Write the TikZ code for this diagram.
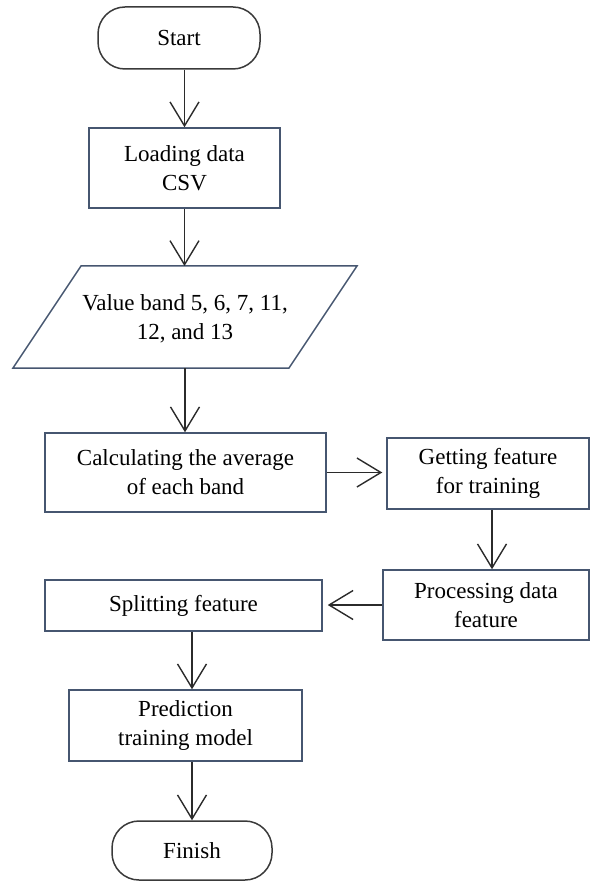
\documentclass[tikz,border=0pt]{standalone}
\usepackage{fontspec}
\setmainfont{Liberation Serif}
\usetikzlibrary{arrows.meta}
\definecolor{boxcol}{HTML}{465670}
\definecolor{termcol}{HTML}{3A3A3A}
\definecolor{arrcol}{HTML}{2B2B2B}
\begin{document}
\begin{tikzpicture}[x=1pt,y=-1pt,
  every node/.style={font=\fontsize{23}{29}\selectfont, align=center, inner sep=0pt},
  procbox/.style={draw=boxcol, line width=1.5pt, rectangle},
  term/.style={draw=termcol, line width=1.5pt, rounded corners=27pt},
  arr/.style={draw=arrcol, line width=1.4pt,
    -{Straight Barb[length=24pt,width=29pt,line width=1.4pt]}}]
\useasboundingbox (0,0) rectangle (590,882);

% terminals and process steps
\node[term, minimum width=162pt, minimum height=62pt] (start) at (179,38) {Start};
\node[procbox, minimum width=191pt, minimum height=80pt] (load) at (184.5,168) {Loading data\\CSV};

% input/output parallelogram
\draw[draw=boxcol, line width=1.5pt] (81,266) -- (357,266) -- (289,368) -- (13,368) -- cycle;
\coordinate (valtop) at (185,266);
\coordinate (valbot) at (185,368);
\node (vals) at (185,319) {Value band 5, 6, 7, 11,\\12, and 13};

\node[procbox, minimum width=281pt, minimum height=79pt] (calc) at (185.5,472.5) {Calculating the average\\of each band};
\node[procbox, minimum width=202pt, minimum height=71pt] (feat) at (488,473.5) {Getting feature\\for training};
\node[procbox, minimum width=206pt, minimum height=70pt] (proc) at (486,605) {Processing data\\feature};
\node[procbox, minimum width=277pt, minimum height=51pt] (split) at (183.5,605.5) {Splitting feature};
\node[procbox, minimum width=233pt, minimum height=71pt] (pred) at (185.5,725.5) {Prediction\\training model};
\node[term, minimum width=160pt, minimum height=59pt] (fin) at (192,850.5) {Finish};

% connectors
\draw[arr] (start.south -| load.north) -- (load.north);
\draw[arr] (load.south) -- (load.south |- valtop);
\draw[arr] (valbot) -- (valbot |- calc.north);
\draw[arr, shorten >=4pt] (calc.east) -- (calc.east -| feat.west);
\draw[arr] ([xshift=4pt]feat.south) -- ([xshift=4pt]feat.south |- proc.north);
\draw[arr, shorten >=5pt] (proc.west) -- (proc.west -| split.east);
\draw[arr] (split.south -| fin.north) -- (fin.north |- pred.north);
\draw[arr] (pred.south -| fin.north) -- (fin.north);
\end{tikzpicture}
\end{document}
